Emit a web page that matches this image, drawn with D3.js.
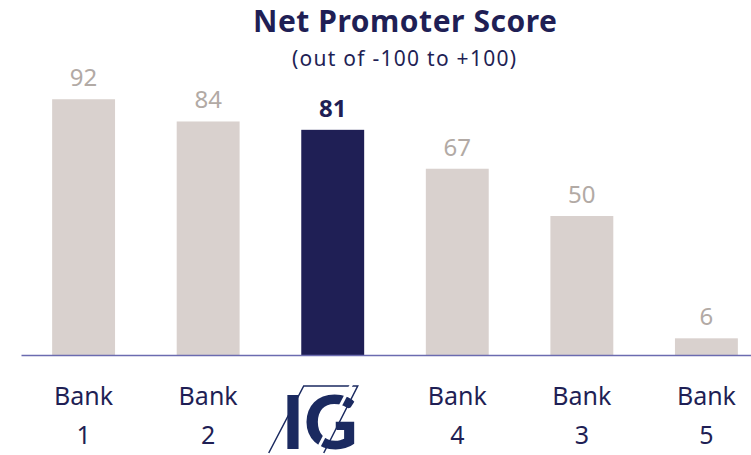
<!DOCTYPE html>
<html>
<head>
<meta charset="utf-8">
<script src="https://cdn.jsdelivr.net/npm/d3@7"></script>
<style>
  body { margin: 0; background: #fff; }
  svg { display: block; font-family: "Noto Sans", "Open Sans", sans-serif; }
</style>
</head>
<body>
<div id="chart"></div>
<script>
// data
const categories = ["Bank 1", "Bank 2", "IG", "Bank 4", "Bank 3", "Bank 5"];
const scores = [92, 84, 81, 67, 50, 6];
const highlight = "IG";

const width = 751, height = 455;
const navy = "#1f1f55";
const barGrey = "#d9d1ce";
const labelGrey = "#b2aaa5";

const svg = d3.select("#chart").append("svg")
    .attr("width", width)
    .attr("height", height);

// scales
const x = d3.scaleBand()
    .domain(categories)
    .range([21, 769])
    .paddingInner(0.495)
    .paddingOuter(0.25);

const y = d3.scaleLinear()
    .domain([0, 100])
    .range([355, 77]);

// title
svg.append("text")
    .attr("x", 405).attr("y", 32)
    .attr("text-anchor", "middle")
    .attr("fill", navy)
    .style("font-size", "30px").style("font-weight", 700)
    .attr("textLength", 304)
    .text("Net Promoter Score");

svg.append("text")
    .attr("x", 404).attr("y", 66)
    .attr("text-anchor", "middle")
    .attr("fill", navy)
    .style("font-size", "21px")
    .attr("textLength", 224)
    .text("(out of -100 to +100)");

// bars
svg.selectAll("rect.bar")
    .data(categories)
    .enter().append("rect")
    .attr("class", "bar")
    .attr("x", d => x(d))
    .attr("y", (d, i) => y(scores[i]))
    .attr("width", x.bandwidth())
    .attr("height", (d, i) => y(0) - y(scores[i]))
    .attr("fill", d => d === highlight ? navy : barGrey);

// value labels
svg.selectAll("text.val")
    .data(categories)
    .enter().append("text")
    .attr("class", "val")
    .attr("x", d => x(d) + x.bandwidth() / 2)
    .attr("y", (d, i) => y(scores[i]) - 13)
    .attr("text-anchor", "middle")
    .attr("fill", d => d === highlight ? navy : labelGrey)
    .style("font-size", "24px")
    .style("font-weight", d => d === highlight ? 700 : 400)
    .text((d, i) => scores[i]);

// axis baseline
svg.append("g")
    .attr("transform", `translate(0,${y(0)})`)
    .call(d3.axisBottom(x).tickSize(0).tickFormat(""))
    .call(g => g.select(".domain").attr("stroke", "#6b6bb0").attr("stroke-width", 1.5));

// category labels
const catLabels = svg.selectAll("g.cat")
    .data(categories.filter(d => d !== highlight))
    .enter().append("g")
    .attr("class", "cat")
    .attr("transform", d => `translate(${x(d) + x.bandwidth() / 2},0)`);

catLabels.each(function(d) {
    const parts = d.split(" ");
    const g = d3.select(this);
    parts.forEach((p, i) => {
        g.append("text")
            .attr("y", 405 + i * 39)
            .attr("text-anchor", "middle")
            .attr("fill", navy)
            .style("font-size", "25px")
            .text(p);
    });
});

// IG logo
const cx = x(highlight) + x.bandwidth() / 2;
const logo = svg.append("g").attr("transform", `translate(${cx},0)`);
const logoColor = "#1b2a60";
logo.append("text")
    .attr("x", -13).attr("y", 449)
    .attr("text-anchor", "middle")
    .attr("fill", logoColor)
    .style("font-family", "Lato, sans-serif")
    .style("font-size", "74px").style("font-weight", 900)
    .text("IG");
logo.append("path")
    .attr("d", "M-64,453 L-29,386 L25,386 L-9,453")
    .attr("fill", "none")
    .attr("stroke", logoColor)
    .attr("stroke-width", 1.5);
logo.append("path")
    .attr("d", "M-14,447 L19,384")
    .attr("stroke", "#fff")
    .attr("stroke-width", 3);
</script>
</body>
</html>
